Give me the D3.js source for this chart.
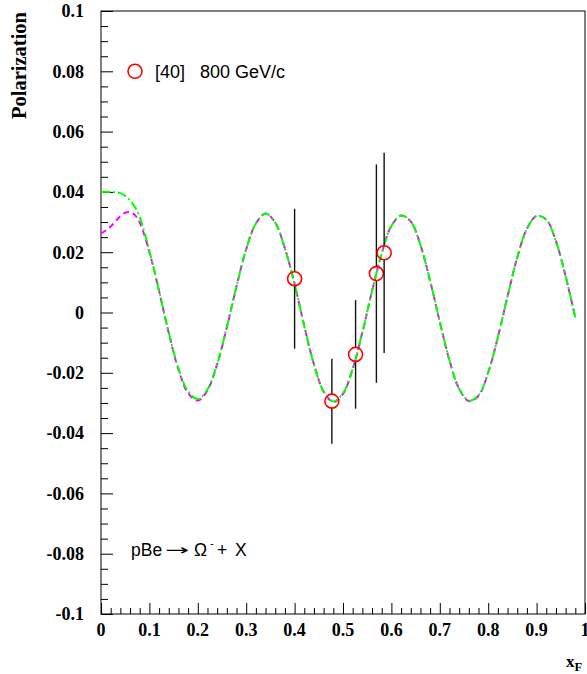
<!DOCTYPE html>
<html><head><meta charset="utf-8">
<script src="https://cdn.jsdelivr.net/npm/d3@7"></script>
<style>body{margin:0;background:#fff;} svg{display:block;}</style>
</head><body>
<script>
// ---- data ----
const greenX = [0,0.02,0.03,0.04,0.05,0.06,0.07,0.08,0.09,0.10,0.11,0.12,0.14,0.16,0.18,0.20,0.22,0.24,0.26,0.28,0.30,0.32,0.34,0.36,0.38,0.40,0.42,0.44,0.46,0.48,0.50,0.52,0.54,0.56,0.58,0.60,0.62,0.64,0.66,0.68,0.70,0.72,0.74,0.76,0.78,0.80,0.82,0.84,0.86,0.88,0.90,0.92,0.94,0.96,0.98];
const greenP = [0.0400,0.0400,0.0399,0.0396,0.0387,0.0372,0.0350,0.0316,0.0265,0.0204,0.0140,0.0071,-0.0066,-0.0185,-0.0262,-0.0287,-0.0255,-0.0170,-0.0049,0.0087,0.0210,0.0295,0.0328,0.0298,0.0212,0.0095,-0.0045,-0.0172,-0.0262,-0.0295,-0.0268,-0.0187,-0.0066,0.0071,0.0196,0.0287,0.0322,0.0302,0.0224,0.0105,-0.0031,-0.0159,-0.0253,-0.0292,-0.0275,-0.0199,-0.0082,0.0054,0.0182,0.0278,0.0320,0.0308,0.0236,0.0120,-0.0017];
const magentaX = [0,0.01,0.02,0.03,0.04,0.05,0.06,0.07,0.08,0.09,0.10,0.11,0.12,0.14,0.16,0.18,0.20,0.22,0.24,0.26,0.28,0.30,0.32,0.34,0.36,0.38,0.40,0.42,0.44,0.46,0.48,0.50,0.52,0.54,0.56,0.58,0.60,0.62,0.64,0.66,0.68,0.70,0.72,0.74,0.76,0.78,0.80,0.82,0.84,0.86,0.88,0.90,0.92,0.94,0.96,0.98];
const magentaP = [0.0262,0.0272,0.0285,0.0302,0.0320,0.0331,0.0333,0.0323,0.0298,0.0255,0.0200,0.0139,0.0071,-0.0068,-0.0189,-0.0268,-0.0292,-0.0258,-0.0172,-0.0049,0.0087,0.0210,0.0295,0.0328,0.0298,0.0212,0.0095,-0.0045,-0.0172,-0.0262,-0.0297,-0.0270,-0.0187,-0.0066,0.0071,0.0196,0.0287,0.0322,0.0302,0.0224,0.0105,-0.0031,-0.0159,-0.0253,-0.0294,-0.0276,-0.0199,-0.0082,0.0054,0.0182,0.0278,0.0320,0.0308,0.0236,0.0120,-0.0017];
const dataX = [0.400,0.477,0.526,0.569,0.585];
const dataP = [0.0112,-0.0294,-0.0139,0.0129,0.0198];
const dataErr = [0.0232,0.0141,0.0180,0.0362,0.0332];
const yTicks = [0.1,0.08,0.06,0.04,0.02,0,-0.02,-0.04,-0.06,-0.08,-0.1];
const xTicks = [0,0.1,0.2,0.3,0.4,0.5,0.6,0.7,0.8,0.9,1];
const legendRef = "[40]";
const legendLabel = "800 GeV/c";

// ---- layout ----
const W = 587, H = 674;
const L = 101, R = 585, T = 11, B = 614;
const x = d3.scaleLinear().domain([0,1]).range([L,R]);
const y = d3.scaleLinear().domain([-0.1,0.1]).range([B,T]);
const fmt = d => d3.format("~g")(d).replace("\u2212","-");

const svg = d3.select("body").append("svg").attr("width",W).attr("height",H);

// frame
svg.append("rect").attr("x",L).attr("y",T).attr("width",R-L).attr("height",B-T)
  .attr("fill","none").attr("stroke","#000").attr("stroke-width",1);

const serif = "'Liberation Serif','Times New Roman',serif";
const sans = "'Liberation Sans',Arial,Helvetica,sans-serif";

// y axis
svg.append("g").attr("transform",`translate(${L},0)`)
  .call(d3.axisRight(y).tickValues(yTicks).tickSize(12).tickFormat(""))
  .call(g=>g.select(".domain").remove())
  .call(g=>g.selectAll("line").attr("stroke","#000"));
const yMinor = d3.range(-100,101,5).map(v=>v/1000).filter(v=>Math.abs(Math.round(v*1000))%20!==0);
svg.append("g").attr("transform",`translate(${L},0)`)
  .call(d3.axisRight(y).tickValues(yMinor).tickSize(7).tickFormat(""))
  .call(g=>g.select(".domain").remove())
  .call(g=>g.selectAll("line").attr("stroke","#000"));
svg.append("g").selectAll("text").data(yTicks).join("text")
  .attr("x",L-17).attr("y",d=>y(d)).attr("dy","0.35em").attr("text-anchor","end")
  .attr("font-family",serif).attr("font-weight","bold").attr("font-size",18)
  .text(fmt);

// x axis
svg.append("g").attr("transform",`translate(0,${B})`)
  .call(d3.axisTop(x).tickValues(xTicks).tickSize(11).tickFormat(""))
  .call(g=>g.select(".domain").remove())
  .call(g=>g.selectAll("line").attr("stroke","#000"));
const xMinor = d3.range(0,101,2).map(v=>v/100).filter(v=>Math.round(v*100)%10!==0);
svg.append("g").attr("transform",`translate(0,${B})`)
  .call(d3.axisTop(x).tickValues(xMinor).tickSize(6).tickFormat(""))
  .call(g=>g.select(".domain").remove())
  .call(g=>g.selectAll("line").attr("stroke","#000"));
svg.append("g").selectAll("text").data(xTicks).join("text")
  .attr("x",d=>x(d)).attr("y",B+22).attr("text-anchor","middle")
  .attr("font-family",serif).attr("font-weight","bold").attr("font-size",18)
  .text(fmt);

// axis titles
svg.append("text").attr("transform","translate(26,12) rotate(-90)").attr("text-anchor","end")
  .attr("font-family",serif).attr("font-weight","bold").attr("font-size",20.5).text("Polarization");
const xt = svg.append("text").attr("x",566).attr("y",667)
  .attr("font-family",serif).attr("font-weight","bold").attr("font-size",17);
xt.append("tspan").text("x");
xt.append("tspan").attr("dy",4).attr("font-size",12.5).text("F");

// curves
const line = d3.line().curve(d3.curveCatmullRom.alpha(0.5));
svg.append("path").attr("d",line(magentaX.map((v,i)=>[x(v),y(magentaP[i])])))
  .attr("fill","none").attr("stroke","#ff00ff").attr("stroke-width",2).attr("stroke-dasharray","6,4");
svg.append("path").attr("d",line(greenX.map((v,i)=>[x(v),y(greenP[i])])))
  .attr("fill","none").attr("stroke","#00ff00").attr("stroke-width",2).attr("stroke-dasharray","9,3,2,3");

// data points
const r = 7;
const pts = svg.append("g");
dataX.forEach((v,i)=>{
  const cx = x(v), cy = y(dataP[i]);
  pts.append("line").attr("x1",cx).attr("x2",cx).attr("y1",y(dataP[i]+dataErr[i])).attr("y2",cy-r)
    .attr("stroke","#111").attr("stroke-width",1.4);
  pts.append("line").attr("x1",cx).attr("x2",cx).attr("y1",cy+r).attr("y2",y(dataP[i]-dataErr[i]))
    .attr("stroke","#111").attr("stroke-width",1.4);
  pts.append("circle").attr("cx",cx).attr("cy",cy).attr("r",r)
    .attr("fill","none").attr("stroke","#ff0000").attr("stroke-width",1.6);
});

// legend
svg.append("circle").attr("cx",135).attr("cy",y(0.08)).attr("r",r)
  .attr("fill","none").attr("stroke","#ff0000").attr("stroke-width",1.6);
svg.append("text").attr("x",155).attr("y",y(0.08)+6.5)
  .attr("font-family",sans).attr("font-size",18).text(legendRef);
svg.append("text").attr("x",200).attr("y",y(0.08)+6.5).style("white-space","pre")
  .attr("font-family",sans).attr("font-size",18).text(legendLabel);

// annotation: pBe -> Omega^- + X
const ay = 556;
const ann = svg.append("g").attr("font-family",sans).attr("font-size",17.5);
ann.append("text").attr("x",131).attr("y",ay).text("pBe");
ann.append("text").attr("x",165).attr("y",ay-1).attr("font-family","'DejaVu Sans',sans-serif")
  .attr("textLength",24).attr("lengthAdjust","spacingAndGlyphs").attr("font-size",15).text("\u2192");
ann.append("text").attr("x",194).attr("y",ay).text("\u03A9");
ann.append("text").attr("x",210).attr("y",ay-9).attr("font-size",11).text("-");
ann.append("text").attr("x",217).attr("y",ay).text("+");
ann.append("text").attr("x",235).attr("y",ay).text("X");
</script>
</body></html>
